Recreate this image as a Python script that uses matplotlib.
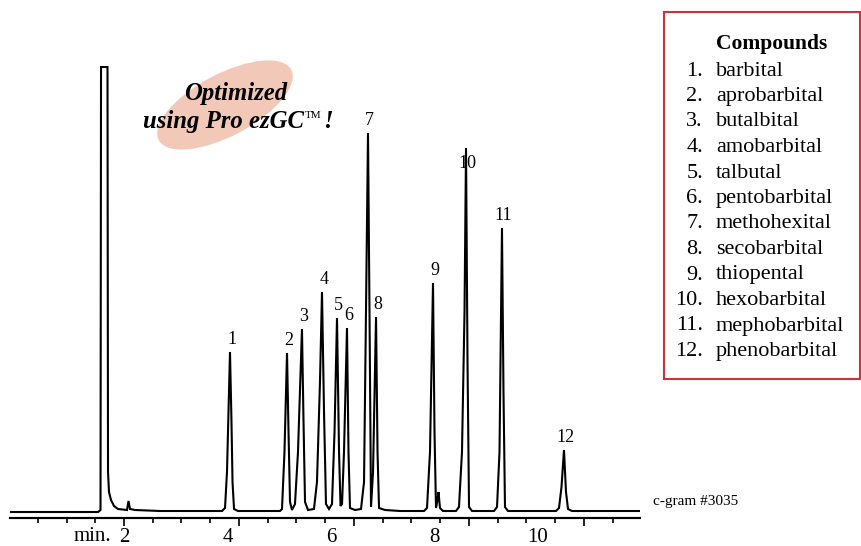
import numpy as np
import matplotlib.pyplot as plt
from matplotlib.patches import Ellipse, Rectangle
from matplotlib.transforms import IdentityTransform

plt.rcParams['font.family'] = ['Liberation Serif', 'DejaVu Serif']

W, H = 862, 546

# chromatogram trace: retention time [min] vs detector signal [a.u.]
time_min = [-0.20, 1.498, 1.546, 1.556, 1.681, 1.691, 1.710, 1.749, 1.807, 1.884,
            2.058, 2.087, 2.116, 2.213, 2.696, 3.469, 3.894, 3.952, 3.990, 4.019,
            4.048, 4.077, 4.097, 4.126, 4.203, 4.628, 5.014, 5.053, 5.101, 5.150,
            5.179, 5.208, 5.246, 5.304, 5.362, 5.439, 5.469, 5.498, 5.556, 5.671,
            5.729, 5.787, 5.826, 5.865, 5.903, 5.961, 6.019, 6.068, 6.116, 6.155,
            6.184, 6.213, 6.251, 6.309, 6.338, 6.367, 6.464, 6.580, 6.638, 6.676,
            6.715, 6.744, 6.773, 6.812, 6.870, 6.899, 6.928, 7.043, 7.333, 7.797,
            7.855, 7.913, 7.971, 8.000, 8.029, 8.058, 8.077, 8.106, 8.164, 8.415,
            8.473, 8.531, 8.580, 8.609, 8.638, 8.667, 8.725, 9.150, 9.208, 9.256,
            9.304, 9.333, 9.362, 9.420, 10.348, 10.406, 10.454, 10.502, 10.541, 10.580,
            10.657, 11.971]
signal = [0, 0, 2, 445, 445, 40, 20, 12, 6, 3,
          2, 11, 3, 2, 1, 1, 1, 4, 40, 100,
          160, 90, 30, 3, 1, 1, 1, 3, 60, 159,
          80, 10, 2, 8, 60, 183, 90, 10, 2, 3,
          30, 130, 220, 100, 8, 3, 8, 80, 194, 60,
          6, 8, 60, 184, 60, 4, 2, 3, 30, 200,
          379, 200, 5, 40, 195, 60, 4, 2, 1, 1,
          4, 60, 229, 80, 4, 12, 20, 4, 1, 1,
          5, 60, 200, 364, 150, 5, 1, 1, 5, 60,
          284, 120, 5, 1, 1, 4, 25, 62, 20, 3,
          1, 1]

# numbered peaks
peak_num = ['1', '2', '3', '4', '5', '6', '7', '8', '9', '10', '11', '12']
peak_rt = [4.048, 5.150, 5.439, 5.826, 6.116, 6.309, 6.715, 6.870, 7.971, 8.609, 9.304, 10.502]
peak_h = [160, 159, 183, 220, 194, 184, 379, 195, 229, 364, 284, 62]

compounds = ['barbital', 'aprobarbital', 'butalbital', 'amobarbital', 'talbutal',
             'pentobarbital', 'methohexital', 'secobarbital', 'thiopental',
             'hexobarbital', 'mephobarbital', 'phenobarbital']

xticks = [2, 4, 6, 8, 10]


def fx(x):
    return x / W


def fy(y):
    return 1 - y / H


fig = plt.figure(figsize=(W / 100, H / 100), dpi=100)
ax = fig.add_axes([fx(10), fy(518), (640 - 10) / W, (518 - 60) / H])
ax.patch.set_visible(False)

ax.plot(time_min, signal, color='black', lw=1.5, solid_joinstyle='miter')
ax.set_xlim(-0.203, 11.971)
ax.set_ylim(-6, 452)

for num, rt, h in zip(peak_num, peak_rt, peak_h):
    dy = -11 if num == '10' else 9
    ax.annotate(num, (rt, h), xytext=(1.2, dy), textcoords='offset points',
                ha='center', va='center', fontsize=13)

for s in ['left', 'right', 'top']:
    ax.spines[s].set_visible(False)
ax.spines['bottom'].set_linewidth(1.5)
ax.set_yticks([])
ax.set_xticks(xticks, labels=[str(v) for v in xticks])
ax.tick_params(axis='x', length=0, pad=7, labelsize=15)

# tick marks of the original drawing (do not line up with the labels)
sec = ax.secondary_xaxis('bottom')
sec.set_xticks(2 + 2.222 * np.arange(0, 5), labels=[])
sec.set_xticks(2 + 0.5555 * np.arange(-3, 18), minor=True)
sec.tick_params(which='major', length=6, width=1.2)
sec.tick_params(which='minor', length=3.5, width=1.2)
sec.spines['bottom'].set_linewidth(1.5)

fig.text(fx(111), fy(541), 'min.', ha='right', va='baseline', fontsize=15)
fig.text(fx(653), fy(502), 'c-gram #3035', ha='left', va='center', fontsize=11)

# "Optimized" badge
fig.add_artist(Ellipse((225, H - 105), 150, 62, angle=28, facecolor='#F2C8B9',
                       edgecolor='none', transform=IdentityTransform(), zorder=0))
badge = dict(fontsize=17.8, fontweight='bold', fontstyle='italic')
fig.text(fx(236), fy(93), 'Optimized', ha='center', va='center', **badge)
t2 = fig.text(fx(143), fy(128), 'using Pro ezGC', ha='left', va='baseline', **badge)
ax.annotate('TM', xy=(1, 1), xycoords=t2, xytext=(0.5, -1), textcoords='offset points',
            ha='left', va='top', fontsize=8)
ax.annotate('!', xy=(1, 0), xycoords=t2, xytext=(14, 0), textcoords='offset points',
            ha='left', va='bottom', **badge)

# compound list box
fig.add_artist(Rectangle((fx(664), fy(379)), (860 - 664) / W, (379 - 12) / H,
                         transform=fig.transFigure, facecolor='none',
                         edgecolor='#C8333D', lw=1.5))
fig.text(fx(716), fy(44), 'Compounds', ha='left', va='center', fontsize=15.5, fontweight='bold')
for i, name in enumerate(compounds):
    y = fy(71 + 25.5 * i)
    fig.text(fx(703), y, f'{i + 1}.', ha='right', va='center', fontsize=16)
    fig.text(fx(716), y, name, ha='left', va='center', fontsize=16)

fig.savefig('out.png', dpi=100)
